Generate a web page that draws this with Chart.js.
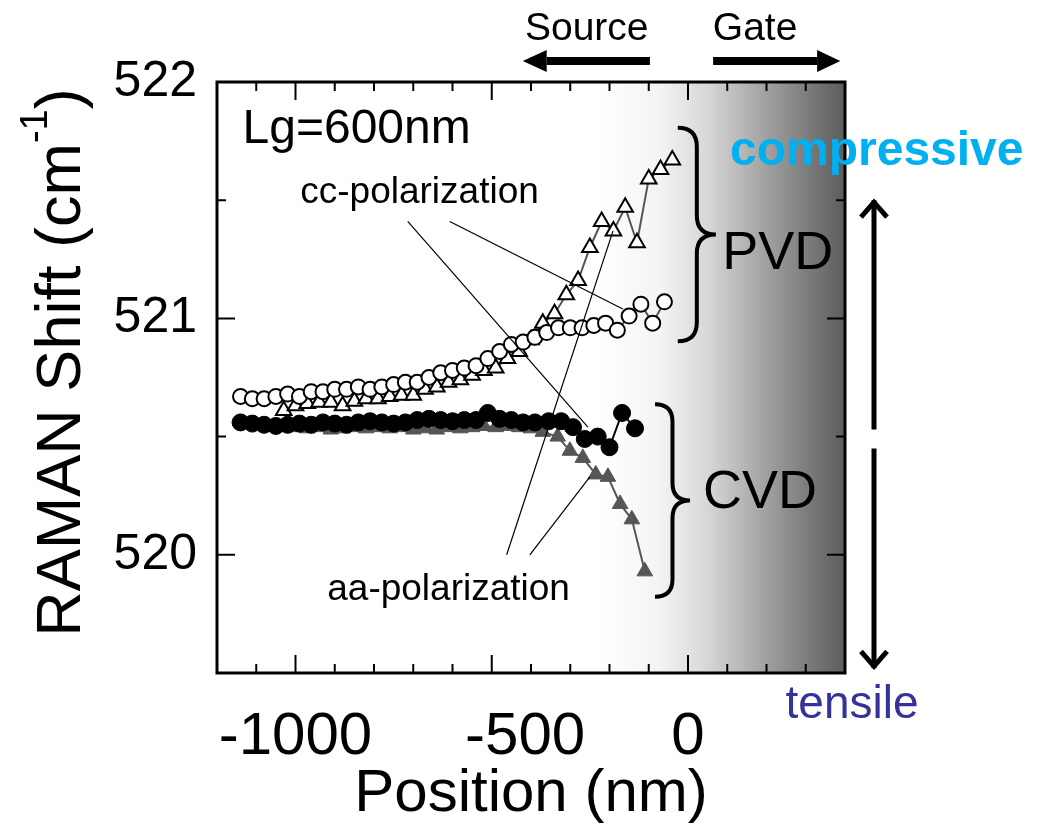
<!DOCTYPE html>
<html>
<head>
<meta charset="utf-8">
<title>RAMAN Shift vs Position</title>
<script src="https://cdn.jsdelivr.net/npm/chart.js@4.4.1/dist/chart.umd.min.js"></script>
<style>
  html, body { margin: 0; padding: 0; background: #fff; }
  #wrap { width: 1046px; height: 835px; }
</style>
</head>
<body>
<div id="wrap"><canvas id="ramanChart" width="1046" height="835"></canvas></div>
<script>
// Dados (posição em nm, deslocamento Raman em cm-1)
const pvdCcX = [-1140, -1110, -1080, -1050, -1020, -990, -960, -930, -900, -870, -840, -810, -780, -750, -720, -690, -660, -630, -600, -570, -540, -510, -480, -450, -420, -390, -360, -330, -300, -270, -240, -210, -180, -150, -120, -90, -60];
const pvdCcY = [520.67, 520.66, 520.66, 520.67, 520.68, 520.67, 520.69, 520.69, 520.70, 520.70, 520.71, 520.70, 520.71, 520.72, 520.73, 520.73, 520.75, 520.77, 520.78, 520.79, 520.80, 520.83, 520.86, 520.89, 520.90, 520.92, 520.94, 520.96, 520.96, 520.96, 520.97, 520.98, 520.95, 521.01, 521.06, 520.98, 521.07];

const pvdAaX = [-1030, -1000, -970, -940, -910, -880, -850, -820, -790, -760, -730, -700, -670, -640, -610, -580, -550, -520, -490, -460, -430, -400, -370, -340, -310, -280, -250, -220, -190, -160, -130, -100, -70, -40];
const pvdAaY = [520.61, 520.63, 520.64, 520.645, 520.645, 520.63, 520.65, 520.66, 520.66, 520.67, 520.675, 520.675, 520.70, 520.71, 520.73, 520.74, 520.76, 520.78, 520.79, 520.83, 520.86, 520.91, 520.98, 521.02, 521.10, 521.16, 521.30, 521.41, 521.37, 521.47, 521.32, 521.59, 521.63, 521.67];

const cvdCcX = [-1140, -1110, -1080, -1050, -1020, -990, -960, -930, -900, -870, -840, -810, -780, -750, -720, -690, -660, -630, -600, -570, -540, -510, -480, -450, -420, -390, -355, -323, -293, -263, -230, -200, -168, -135];
const cvdCcY = [520.56, 520.555, 520.55, 520.545, 520.55, 520.555, 520.55, 520.56, 520.555, 520.55, 520.56, 520.565, 520.56, 520.555, 520.56, 520.57, 520.575, 520.57, 520.565, 520.57, 520.57, 520.60, 520.575, 520.57, 520.56, 520.56, 520.565, 520.565, 520.54, 520.49, 520.50, 520.455, 520.60, 520.535];

const cvdAaX = [-1030, -1000, -970, -940, -910, -880, -850, -820, -790, -760, -730, -700, -670, -640, -610, -580, -550, -520, -490, -460, -430, -400, -370, -332, -301, -268, -235, -204, -173, -143, -110];
const cvdAaY = [520.54, 520.54, 520.535, 520.54, 520.53, 520.535, 520.54, 520.535, 520.54, 520.535, 520.54, 520.53, 520.535, 520.53, 520.54, 520.535, 520.54, 520.545, 520.54, 520.545, 520.54, 520.535, 520.52, 520.50, 520.44, 520.41, 520.34, 520.33, 520.215, 520.15, 519.93];

// Eixos
const xRange = [-1200, 400];
const yRange = [519.5, 522];
const xLabeled = [-1000, -500, 0];
const yLabeled = [520, 521, 522];

const FONT = '"Liberation Sans", Arial, Helvetica, sans-serif';

function toPoints(xs, ys) {
    return xs.map((x, i) => ({ x: x, y: ys[i] }));
}

// Fundo em degradê (região do gate)
const shadePlugin = {
    id: 'gateShade',
    beforeDatasetsDraw(chart) {
        const { ctx, chartArea: a, scales: { x } } = chart;
        const g = ctx.createLinearGradient(x.getPixelForValue(-230), 0, a.right, 0);
        g.addColorStop(0, '#ffffff');
        g.addColorStop(0.25, '#f4f4f4');
        g.addColorStop(0.45, '#d6d6d6');
        g.addColorStop(0.65, '#a8a8a8');
        g.addColorStop(0.83, '#808080');
        g.addColorStop(1, '#5c5c5c');
        ctx.save();
        ctx.fillStyle = g;
        ctx.fillRect(a.left, a.top, a.right - a.left, a.bottom - a.top);
        ctx.restore();
    }
};

// Moldura e marcas dos eixos (para dentro)
const frameTicksPlugin = {
    id: 'frameTicks',
    afterDatasetsDraw(chart) {
        const { ctx, chartArea: a, scales: { x, y } } = chart;
        ctx.save();
        ctx.strokeStyle = '#000';
        ctx.lineWidth = 2;
        ctx.beginPath();
        x.ticks.forEach(t => {
            const px = x.getPixelForValue(t.value);
            const len = xLabeled.includes(t.value) ? 18 : 9;
            ctx.moveTo(px, a.bottom); ctx.lineTo(px, a.bottom - len);
            ctx.moveTo(px, a.top); ctx.lineTo(px, a.top + len);
        });
        y.ticks.forEach(t => {
            const py = y.getPixelForValue(t.value);
            const len = yLabeled.includes(t.value) ? 18 : 9;
            ctx.moveTo(a.left, py); ctx.lineTo(a.left + len, py);
            ctx.moveTo(a.right, py); ctx.lineTo(a.right - len, py);
        });
        ctx.stroke();
        ctx.lineWidth = 3;
        ctx.strokeRect(a.left, a.top, a.right - a.left, a.bottom - a.top);
        ctx.restore();
    }
};

function drawBrace(ctx, xl, xr, yt, yb) {
    const xm = (xl + xr) / 2, ym = (yt + yb) / 2, r = (xr - xl) / 2;
    ctx.beginPath();
    ctx.moveTo(xl, yt);
    ctx.quadraticCurveTo(xm, yt, xm, yt + r);
    ctx.lineTo(xm, ym - r);
    ctx.quadraticCurveTo(xm, ym, xr, ym);
    ctx.quadraticCurveTo(xm, ym, xm, ym + r);
    ctx.lineTo(xm, yb - r);
    ctx.quadraticCurveTo(xm, yb, xl, yb);
    ctx.stroke();
}

function drawFatArrow(ctx, xStart, xBase, xTip, yc) {
    ctx.fillRect(Math.min(xStart, xBase), yc - 4, Math.abs(xBase - xStart), 8);
    ctx.beginPath();
    ctx.moveTo(xTip, yc);
    ctx.lineTo(xBase, yc - 11);
    ctx.lineTo(xBase, yc + 11);
    ctx.closePath();
    ctx.fill();
}

// Anotações: textos, chaves, setas e linhas indicadoras
const notesPlugin = {
    id: 'notes',
    afterDraw(chart) {
        const { ctx, chartArea: a, scales: { x, y } } = chart;
        const X = v => x.getPixelForValue(v);
        const Y = v => y.getPixelForValue(v);
        ctx.save();

        // linhas indicadoras
        ctx.strokeStyle = '#000';
        ctx.lineWidth = 1.2;
        [[-714, 521.41, -255, 520.54], [-607, 521.41, -166, 521.04],
         [-462, 520.0, -191, 521.37], [-403, 520.0, -250, 520.33]].forEach(l => {
            ctx.beginPath();
            ctx.moveTo(X(l[0]), Y(l[1]));
            ctx.lineTo(X(l[2]), Y(l[3]));
            ctx.stroke();
        });

        // textos dentro do gráfico
        ctx.fillStyle = '#000';
        ctx.textBaseline = 'alphabetic';
        ctx.textAlign = 'left';
        ctx.font = '48px ' + FONT;
        ctx.fillText('Lg=600nm', X(-1135), Y(521.74));
        ctx.textAlign = 'center';
        ctx.font = '37px ' + FONT;
        ctx.fillText('cc-polarization', X(-684), Y(521.49));
        ctx.fillText('aa-polarization', X(-610), Y(519.81));

        // chaves PVD / CVD
        ctx.lineWidth = 4;
        drawBrace(ctx, X(-26), X(71), Y(521.806), Y(520.903));
        drawBrace(ctx, X(-84), X(5), Y(520.637), Y(519.823));
        ctx.textAlign = 'left';
        ctx.font = '54px ' + FONT;
        ctx.fillText('PVD', X(87), Y(521.21));
        ctx.fillText('CVD', X(38), Y(520.2));

        // Source / Gate
        ctx.font = '39px ' + FONT;
        ctx.textAlign = 'center';
        ctx.fillText('Source', X(-258), a.top - 42);
        ctx.fillText('Gate', X(171), a.top - 42);
        drawFatArrow(ctx, X(-97), X(-360), X(-421), a.top - 21);
        drawFatArrow(ctx, X(64), X(329), X(388), a.top - 21);

        // seta vertical compressive / tensile
        const ax = a.right + 29;
        ctx.lineWidth = 5;
        ctx.lineCap = 'butt';
        ctx.beginPath();
        ctx.moveTo(ax, Y(520.53)); ctx.lineTo(ax, Y(521.5));
        ctx.moveTo(ax, Y(520.45)); ctx.lineTo(ax, Y(519.52));
        ctx.stroke();
        ctx.lineJoin = 'miter';
        ctx.beginPath();
        ctx.moveTo(ax - 13, Y(521.5) + 17); ctx.lineTo(ax, Y(521.5) + 2); ctx.lineTo(ax + 13, Y(521.5) + 17);
        ctx.moveTo(ax - 13, Y(519.52) - 17); ctx.lineTo(ax, Y(519.52) - 2); ctx.lineTo(ax + 13, Y(519.52) - 17);
        ctx.stroke();

        ctx.textAlign = 'left';
        ctx.font = 'bold 48px ' + FONT;
        ctx.fillStyle = '#00b0f0';
        ctx.fillText('compressive', a.right - 115, Y(521.65));
        ctx.textAlign = 'center';
        ctx.font = '46px ' + FONT;
        ctx.fillStyle = '#333399';
        ctx.fillText('tensile', a.right + 7, a.bottom + 45);

        // título do eixo y com sobrescrito
        const main = 'RAMAN Shift (cm', sup = '-1', close = ')';
        ctx.fillStyle = '#000';
        ctx.font = '63px ' + FONT;
        const w1 = ctx.measureText(main).width;
        const w3 = ctx.measureText(close).width;
        ctx.font = '38px ' + FONT;
        const w2 = ctx.measureText(sup).width;
        const total = w1 + w2 + w3;
        ctx.translate(80, (a.top + a.bottom) / 2 - 15);
        ctx.rotate(-Math.PI / 2);
        ctx.textAlign = 'left';
        let s = -total / 2;
        ctx.font = '63px ' + FONT;
        ctx.fillText(main, s, 0);
        ctx.font = '38px ' + FONT;
        ctx.fillText(sup, s + w1, -33);
        ctx.font = '63px ' + FONT;
        ctx.fillText(close, s + w1 + w2, 0);
        ctx.restore();
    }
};

const ctx = document.getElementById('ramanChart').getContext('2d');
const ramanChart = new Chart(ctx, {
    type: 'line',
    data: {
        datasets: [
            {
                label: 'CVD cc-polarization',
                data: toPoints(cvdCcX, cvdCcY),
                borderColor: '#000',
                borderWidth: 2,
                pointStyle: 'circle',
                pointRadius: 8.5,
                pointBackgroundColor: '#000',
                pointBorderColor: '#000',
                pointBorderWidth: 1
            },
            {
                label: 'CVD aa-polarization',
                data: toPoints(cvdAaX, cvdAaY),
                borderColor: '#555',
                borderWidth: 2,
                pointStyle: 'triangle',
                pointRadius: 9,
                pointBackgroundColor: '#555',
                pointBorderColor: '#555',
                pointBorderWidth: 1
            },
            {
                label: 'PVD cc-polarization',
                data: toPoints(pvdCcX, pvdCcY),
                borderColor: '#555',
                borderWidth: 2,
                pointStyle: 'circle',
                pointRadius: 7.5,
                pointBackgroundColor: '#fff',
                pointBorderColor: '#000',
                pointBorderWidth: 2
            },
            {
                label: 'PVD aa-polarization',
                data: toPoints(pvdAaX, pvdAaY),
                borderColor: '#555',
                borderWidth: 2,
                pointStyle: 'triangle',
                pointRadius: 9,
                pointBackgroundColor: '#fff',
                pointBorderColor: '#000',
                pointBorderWidth: 2
            }
        ]
    },
    options: {
        responsive: false,
        animation: false,
        layout: { padding: { top: 82, right: 201, left: 0, bottom: 0 } },
        plugins: {
            legend: { display: false },
            tooltip: { enabled: false }
        },
        elements: { line: { tension: 0 } },
        scales: {
            x: {
                type: 'linear',
                min: xRange[0],
                max: xRange[1],
                grid: { display: false, drawTicks: false },
                border: { display: false },
                ticks: {
                    stepSize: 100,
                    autoSkip: false,
                    maxRotation: 0,
                    padding: 28,
                    color: '#000',
                    font: { family: FONT, size: 60 },
                    // o rótulo -500 aparece deslocado para a direita na figura original
                    callback: v => !xLabeled.includes(v) ? '' : (v === -500 ? '\u2007\u2007-500' : String(v))
                },
                title: {
                    display: true,
                    text: 'Position (nm)',
                    color: '#000',
                    font: { family: FONT, size: 60 },
                    padding: { top: 0, bottom: 5 }
                },
                afterFit: scale => { scale.height = 162; }
            },
            y: {
                type: 'linear',
                min: yRange[0],
                max: yRange[1],
                grid: { display: false, drawTicks: false },
                border: { display: false },
                ticks: {
                    stepSize: 0.5,
                    autoSkip: false,
                    padding: 20,
                    color: '#000',
                    font: { family: FONT, size: 50 },
                    callback: v => yLabeled.includes(v) ? String(v) : ''
                },
                afterFit: scale => { scale.width = 217; }
            }
        }
    },
    plugins: [shadePlugin, frameTicksPlugin, notesPlugin]
});
</script>
</body>
</html>
